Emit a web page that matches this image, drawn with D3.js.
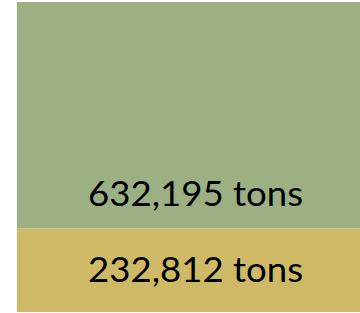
<!DOCTYPE html>
<html>
<head>
<meta charset="utf-8">
<script src="https://cdn.jsdelivr.net/npm/d3@7"></script>
<style>
  html, body { margin: 0; padding: 0; background: #fff; overflow: hidden; }
  svg { display: block; }
</style>
</head>
<body>
<svg id="chart" width="360" height="313"></svg>
<script>
// data, bottom segment first
const segments = ["lower", "upper"];
const values = [232812, 632195];
const units = "tons";
const colors = ["#CEB967", "#9CB084"];

const width = 360;
const height = 313;
const barLeft = 17;
const barRight = 374; // bar runs off the right edge of the crop
const barTop = 2;
const barBottom = 312;
const LABEL_SIZE = 35;

const svg = d3.select("#chart");

const row = {};
segments.forEach((s, i) => (row[s] = values[i]));
const stacked = d3.stack().keys(segments)([row]);

const y = d3.scaleLinear()
  .domain([0, d3.sum(values)])
  .range([barBottom, barTop]);

const x = d3.scaleBand()
  .domain(["total"])
  .range([barLeft, barRight])
  .padding(0);

const fmt = d3.format(",");

const groups = svg.selectAll("g.seg")
  .data(stacked)
  .join("g")
  .attr("class", "seg");

groups.append("rect")
  .attr("x", x("total"))
  .attr("width", x.bandwidth())
  .attr("y", (d) => y(d[0][1]))
  .attr("height", (d) => y(d[0][0]) - y(d[0][1]))
  .attr("fill", (d, i) => colors[i]);

groups.append("text")
  .attr("x", x("total") + x.bandwidth() / 2)
  .attr("y", function (d, i) {
    // lower label sits in the middle, upper label near the base of its segment
    if (i === 0) return (y(d[0][0]) + y(d[0][1])) / 2 + 12;
    return y(d[0][0]) - 22.5;
  })
  .attr("text-anchor", "middle")
  .attr("font-family", "Lato, 'Open Sans', sans-serif")
  .attr("font-size", LABEL_SIZE + "px")
  .attr("textLength", 215)
  .attr("lengthAdjust", "spacingAndGlyphs")
  .attr("fill", "#000")
  .text((d, i) => fmt(values[i]) + " " + units);
</script>
</body>
</html>
